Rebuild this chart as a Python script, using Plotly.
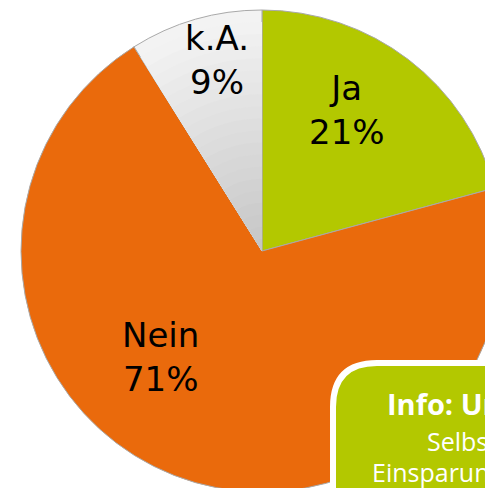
import plotly.graph_objects as go

# ---- data ----
categories = ["Ja", "Nein", "k.A."]
values = [21, 71, 9]
labels_pct = ["21%", "71%", "9%"]
colors = ["#B3C800", "#EA6A0C", "#F3F3F3"]
info_lines = ["Info: Umfrage", "Selbstständige", "Einsparungen"]

W, H = 503, 492
CX, CY, R = 262, 251, 241

def px(x):
    return x / W

def py(y):
    return 1 - y / H

fig = go.Figure()
fig.add_trace(go.Pie(
    labels=categories,
    values=values,
    sort=False,
    direction="clockwise",
    rotation=0,
    marker=dict(colors=colors, line=dict(color="#A9A9A9", width=1)),
    textinfo="none",
    hoverinfo="label+percent",
    showlegend=False,
    domain=dict(x=[px(CX - R), px(CX + R)], y=[py(CY + R), py(CY - R)]),
))

# shading of the "k.A." slice: nested copies of the same pie, darker toward the centre
N = 20
for k in range(N - 1, 0, -1):
    r = R * k / N
    g = int(round(197 + 0.2 * (r - R / (2 * N))))
    fig.add_trace(go.Pie(
        labels=categories,
        values=values,
        sort=False,
        direction="clockwise",
        rotation=0,
        marker=dict(colors=["rgba(0,0,0,0)", "rgba(0,0,0,0)", f"rgb({g},{g},{g})"],
                    line=dict(width=0)),
        textinfo="none",
        hoverinfo="skip",
        showlegend=False,
        domain=dict(x=[px(CX - r), px(CX + r)], y=[py(CY + r), py(CY - r)]),
    ))

# slice labels
label_pos = {"Ja": (347, 110), "Nein": (160, 357), "k.A.": (217, 60)}
for cat, pct in zip(categories, labels_pct):
    x, y = label_pos[cat]
    fig.add_annotation(
        x=px(x), y=py(y), xref="paper", yref="paper",
        text=f"{cat}<br>{pct}", showarrow=False,
        xanchor="center", yanchor="middle", align="center",
        font=dict(family="DejaVu Sans", size=34, color="black"),
    )

# info box (rounded, white border, green fill)
x0, y0, rr = 333, 363, 44
x1, y1 = 640, 640
path = (f"M {px(x0)} {py(y1)} L {px(x0)} {py(y0 + rr)} "
        f"Q {px(x0)} {py(y0)} {px(x0 + rr)} {py(y0)} "
        f"L {px(x1)} {py(y0)} L {px(x1)} {py(y1)} Z")
fig.add_shape(type="path", path=path, xref="paper", yref="paper",
              fillcolor="#B3C800", line=dict(color="white", width=6),
              layer="above")

info_pos = [(385, 403, 29, True), (425, 441, 25, False), (370, 472, 25, False)]
for line, (x, y, s, bold) in zip(info_lines, info_pos):
    fig.add_annotation(
        x=px(x), y=py(y), xref="paper", yref="paper",
        text=f"<b>{line}</b>" if bold else line, showarrow=False,
        xanchor="left", yanchor="middle", align="left",
        font=dict(family="Open Sans", size=s, color="white"),
    )

fig.update_layout(
    width=W, height=H,
    margin=dict(l=0, r=0, t=0, b=0),
    paper_bgcolor="white", plot_bgcolor="white",
)

fig.write_html(
    "out.html",
    config={"displayModeBar": False},
    post_script="document.body.style.margin='0';document.body.style.overflow='hidden';document.documentElement.style.overflow='hidden';",
)
